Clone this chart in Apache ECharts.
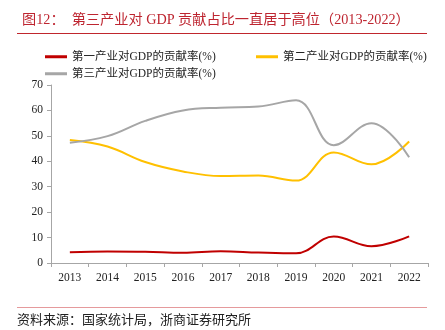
<!DOCTYPE html>
<html>
<head>
<meta charset="utf-8">
<script src="https://cdn.jsdelivr.net/npm/echarts@6/dist/echarts.min.js"></script>
<style>
html,body{margin:0;padding:0;background:#fff;}
#chart{width:445px;height:330px;}
</style>
</head>
<body>
<div id="chart"></div>
<script>
// 三次产业对GDP的贡献率(%)，2013-2022
var years = ['2013','2014','2015','2016','2017','2018','2019','2020','2021','2022'];
var primary = [4.2, 4.5, 4.4, 4.0, 4.6, 4.1, 3.8, 10.4, 6.6, 10.5];
var secondary = [48.4, 45.8, 39.7, 36.0, 34.2, 34.4, 32.4, 43.5, 38.8, 47.8];
var tertiary = [47.3, 49.9, 55.9, 60.0, 61.1, 61.5, 64.0, 46.3, 55.0, 41.6];
var seriesNames = ['第一产业对GDP的贡献率(%)', '第二产业对GDP的贡献率(%)', '第三产业对GDP的贡献率(%)'];

var FONT = '"Liberation Serif", "Times New Roman", "Noto Sans CJK SC", serif';
var chart = echarts.init(document.getElementById('chart'));

function lineSeries(name, data, color) {
  return {
    name: name, type: 'line', data: data, smooth: 0.4,
    symbol: 'none', lineStyle: { color: color, width: 2 }, itemStyle: { color: color }
  };
}

var legendText = { fontFamily: FONT, fontSize: 11.5, color: '#222' };

chart.setOption({
  animation: false,
  textStyle: { fontFamily: FONT },
  title: {
    text: '图12：  第三产业对 GDP 贡献占比一直居于高位（2013-2022）',
    left: 17, top: 8,
    textStyle: { fontFamily: FONT, fontSize: 14.2, fontWeight: 'normal', color: '#BE2530' }
  },
  graphic: [
    { type: 'line', shape: { x1: 17, y1: 33.5, x2: 427, y2: 33.5 }, style: { stroke: '#C0262D', lineWidth: 1 } },
    { type: 'line', shape: { x1: 17, y1: 307.5, x2: 427, y2: 307.5 }, style: { stroke: '#E59A9C', lineWidth: 1.2 } },
    { type: 'text', left: 17, top: 314, style: { text: '资料来源：国家统计局，浙商证券研究所', font: '13px ' + FONT, fill: '#222' } }
  ],
  legend: [
    { data: [seriesNames[0]], left: 40, top: 46, itemWidth: 22, itemHeight: 3, icon: 'rect', textStyle: legendText },
    { data: [seriesNames[1]], left: 251, top: 46, itemWidth: 22, itemHeight: 3, icon: 'rect', textStyle: legendText },
    { data: [seriesNames[2]], left: 40, top: 63, itemWidth: 22, itemHeight: 3, icon: 'rect', textStyle: legendText }
  ],
  grid: { left: 51, right: 17, top: 85, bottom: 67 },
  xAxis: {
    type: 'category', data: years, boundaryGap: true,
    axisLine: { lineStyle: { color: '#A6A6A6', width: 1 } },
    axisTick: { show: true, length: 4, lineStyle: { color: '#A6A6A6' } },
    axisLabel: { fontFamily: FONT, fontSize: 11.5, color: '#222', margin: 9 }
  },
  yAxis: {
    type: 'value', min: 0, max: 70, interval: 10,
    splitLine: { show: false },
    axisLine: { show: true, lineStyle: { color: '#A6A6A6', width: 1 } },
    axisTick: { show: true, length: 4, lineStyle: { color: '#A6A6A6' } },
    axisLabel: { fontFamily: FONT, fontSize: 11.5, color: '#222', margin: 8 }
  },
  series: [
    lineSeries(seriesNames[0], primary, '#C00000'),
    lineSeries(seriesNames[1], secondary, '#FFC000'),
    lineSeries(seriesNames[2], tertiary, '#A6A6A6')
  ]
});
</script>
</body>
</html>
